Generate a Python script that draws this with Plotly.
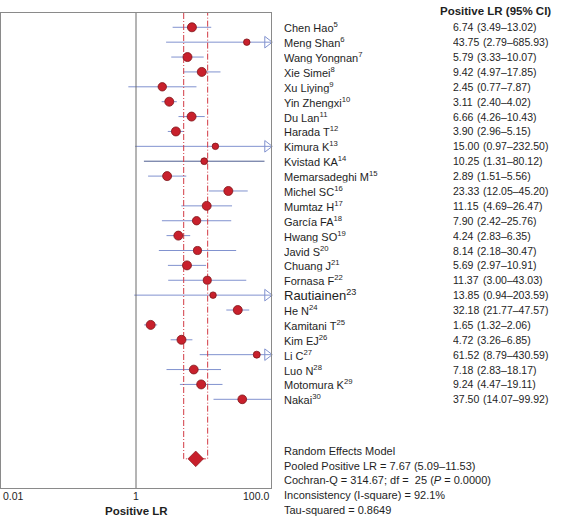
import math
import plotly.graph_objects as go

studies = ["Chen Hao", "Meng Shan", "Wang Yongnan", "Xie Simei", "Xu Liying", "Yin Zhengxi",
           "Du Lan", "Harada T", "Kimura K", "Kvistad KA", "Memarsadeghi M", "Michel SC",
           "Mumtaz H", "García FA", "Hwang SO", "Javid S", "Chuang J", "Fornasa F",
           "Rautiainen", "He N", "Kamitani T", "Kim EJ", "Li C", "Luo N", "Motomura K", "Nakai"]
refs = [5, 6, 7, 8, 9, 10, 11, 12, 13, 14, 15, 16, 17, 18, 19, 20, 21, 22, 23, 24, 25, 26, 27, 28, 29, 30]
lr = [6.74, 43.75, 5.79, 9.42, 2.45, 3.11, 6.66, 3.90, 15.00, 10.25, 2.89, 23.33, 11.15, 7.90,
      4.24, 8.14, 5.69, 11.37, 13.85, 32.18, 1.65, 4.72, 61.52, 7.18, 9.24, 37.50]
lo = [3.49, 2.79, 3.33, 4.97, 0.77, 2.40, 4.26, 2.96, 0.97, 1.31, 1.51, 12.05, 4.69, 2.42,
      2.83, 2.18, 2.97, 3.00, 0.94, 21.77, 1.32, 3.26, 8.79, 2.83, 4.47, 14.07]
hi = [13.02, 685.93, 10.07, 17.85, 7.87, 4.02, 10.43, 5.15, 232.50, 80.12, 5.56, 45.20, 26.47,
      25.76, 6.35, 30.47, 10.91, 43.03, 203.59, 47.57, 2.06, 6.85, 430.59, 18.17, 19.11, 99.92]

pooled = 7.67
pooled_lo = 5.09
pooled_hi = 11.53
summary_lines = ["Random Effects Model",
                 "Pooled Positive LR = 7.67 (5.09–11.53)",
                 "Cochran-Q = 314.67; df =\u00a0\u00a025 (<i>P</i> = 0.0000)",
                 "Inconsistency (I-square) = 92.1%",
                 "Tau-squared = 0.8649"]
x_ticks = [0.01, 1, 100]
x_tick_text = ["0.01", "1", "100.0"]
x_title = "Positive LR"
header = "Positive LR (95% CI)"

# ---- layout geometry ----
W, H = 569, 518
ML, MR, MT, MB = 1, 0, 13, 30
XMIN, XMAX = 0.01, 100.0
Y_TOP, Y_BOT = -0.96, 30.96
DIAMOND_ROW = 29
n = len(studies)
rows = list(range(n))

def py(row):
    return (Y_BOT - row) / (Y_BOT - Y_TOP)

def px(pixel):
    return (pixel - ML) / (W - ML - MR)

FONT = "Liberation Sans, Arial, Helvetica, sans-serif"
TXT = "#1e1e1e"
LINE_C = "#8192cf"
DARK_LINE_C = "#4d5d8f"
RED = "#c8202c"
RED_EDGE = "#7d1418"
DASH_RED = "#d23a44"
VAL_FS = 10.5

fig = go.Figure()

# confidence-interval lines
for i in rows:
    c = DARK_LINE_C if studies[i] == "Kvistad KA" else LINE_C
    fig.add_trace(go.Scatter(x=[max(lo[i], XMIN), min(hi[i], XMAX)], y=[i, i], mode="lines",
                             line=dict(color=c, width=1), hoverinfo="skip", showlegend=False))

# open arrowheads where the interval runs past the axis
arr_rows = [i for i in rows if hi[i] > XMAX]
arr_x = [10 ** (math.log10(XMAX) - 0.055) for _ in arr_rows]
fig.add_trace(go.Scatter(x=arr_x, y=arr_rows, mode="markers",
                         marker=dict(symbol="triangle-right-open", size=10, color=LINE_C, opacity=1,
                                     line=dict(color=LINE_C, width=1)),
                         cliponaxis=False, hoverinfo="skip", showlegend=False))

# line of no effect
fig.add_trace(go.Scatter(x=[1, 1], y=[Y_TOP, Y_BOT], mode="lines",
                         line=dict(color="#6a6a6a", width=1), hoverinfo="skip", showlegend=False))

# pooled CI bracket
fig.add_trace(go.Scatter(x=[pooled_lo, pooled_lo, pooled_hi, pooled_hi],
                         y=[Y_TOP, DIAMOND_ROW, DIAMOND_ROW, Y_TOP], mode="lines",
                         line=dict(color=DASH_RED, width=1, dash="6px,2px,1px,2px"),
                         hoverinfo="skip", showlegend=False))

# point estimates, sized by precision
sizes = []
for i in rows:
    lw = math.log(hi[i] / lo[i])
    sizes.append(max(6.5, min(9.0, 10.5 - 0.9 * lw)))
fig.add_trace(go.Scatter(x=lr, y=rows, mode="markers",
                         marker=dict(symbol="circle", size=sizes, color=RED, opacity=1,
                                     line=dict(color=RED_EDGE, width=0.8)),
                         hoverinfo="skip", showlegend=False))

# pooled diamond
fig.add_trace(go.Scatter(x=[pooled], y=[DIAMOND_ROW], mode="markers",
                         marker=dict(symbol="diamond", size=12, color=RED, opacity=1,
                                     line=dict(color=RED_EDGE, width=0.6)),
                         hoverinfo="skip", showlegend=False))

ann = []

def text_ann(xpix, yrow, text, size, width, bold=False):
    return dict(x=px(xpix - 1), y=py(yrow), xref="paper", yref="paper", xanchor="left", yanchor="middle",
                width=width, align="left", borderpad=1,
                text=f"<b>{text}</b>" if bold else text, showarrow=False,
                font=dict(size=size, color=TXT, family=FONT))

def num_width(s, size):
    # Liberation Sans / Arial advance widths: digits 0.556 em, '.' 0.278 em
    return sum(0.278 if ch == "." else 0.556 for ch in s) * size

for i in rows:
    fs = 13 if studies[i] == "Rautiainen" else 11
    ann.append(text_ann(283, i, f"{studies[i]}<sup>{refs[i]}</sup>", fs, 120))
    vs = f"{lr[i]:.2f}"
    ann.append(text_ann(452, i, vs, VAL_FS, 40))
    ann.append(text_ann(452 + num_width(vs, VAL_FS) + 4, i, f"({lo[i]:.2f}–{hi[i]:.2f})", VAL_FS, 95))
ann.append(text_ann(439, -1.1, header, 11.5, 128, bold=True))
for k, t in enumerate(summary_lines):
    ann.append(text_ann(283, 28.45 + k, t, 11, 260))
anchors = ["left", "center", "right"]
for v, t, a in zip(x_ticks, x_tick_text, anchors):
    ann.append(dict(x=math.log10(v), y=-0.017, xref="x", yref="paper", xanchor=a, yanchor="middle",
                    text=t, showarrow=False, font=dict(size=10.5, color=TXT, family=FONT)))
ann.append(dict(x=0, y=-0.049, xref="x", yref="paper", xanchor="center", yanchor="middle",
                text=f"<b>{x_title}</b>", showarrow=False, font=dict(size=11.5, color=TXT, family=FONT)))

fig.update_layout(
    width=W, height=H, margin=dict(l=ML, r=MR, t=MT, b=MB, autoexpand=False),
    paper_bgcolor="white", plot_bgcolor="white",
    xaxis=dict(type="log", range=[math.log10(XMIN), math.log10(XMAX)], domain=[0, px(271)],
               showgrid=False, zeroline=False, showticklabels=False, ticks="",
               showline=True, mirror=True, linecolor="#8a8a8a", linewidth=1.2),
    yaxis=dict(range=[Y_BOT, Y_TOP], showgrid=False, zeroline=False, showticklabels=False, ticks="",
               showline=True, mirror=True, linecolor="#8a8a8a", linewidth=1.2),
    annotations=ann,
    showlegend=False,
)

fig.write_html("out.html", config={"displayModeBar": False},
               post_script="document.body.style.margin='0';document.body.style.padding='0';"
                           "document.body.style.overflow='hidden';")
